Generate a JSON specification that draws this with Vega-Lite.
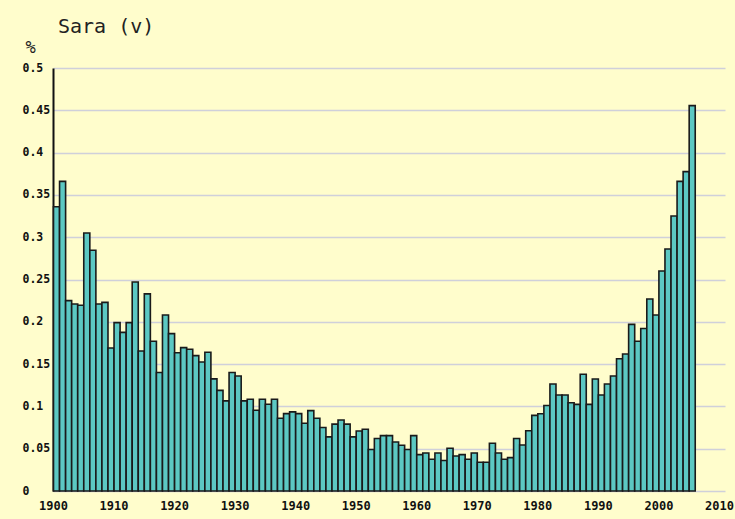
{
  "$schema": "https://vega.github.io/schema/vega-lite/v6.json",
  "autosize": "none",
  "width": 672,
  "height": 423,
  "padding": {"left": 53, "top": 68, "right": 10, "bottom": 28},
  "background": "#fffdcc",
  "title": {
    "text": "Sara (v)",
    "anchor": "start",
    "frame": "group",
    "dx": 5,
    "offset": -15,
    "baseline": "alphabetic",
    "font": "DejaVu Sans Mono",
    "fontSize": 20,
    "fontWeight": "normal",
    "color": "#222222"
  },
  "config": {
    "view": {"stroke": null},
    "font": "DejaVu Sans Mono"
  },
  "data": {
    "values": [
      {"year": 1900, "share": 0.336}, {"year": 1901, "share": 0.366}, {"year": 1902, "share": 0.225},
      {"year": 1903, "share": 0.221}, {"year": 1904, "share": 0.2195}, {"year": 1905, "share": 0.305},
      {"year": 1906, "share": 0.2845}, {"year": 1907, "share": 0.221}, {"year": 1908, "share": 0.223},
      {"year": 1909, "share": 0.169}, {"year": 1910, "share": 0.199}, {"year": 1911, "share": 0.1875},
      {"year": 1912, "share": 0.199}, {"year": 1913, "share": 0.247}, {"year": 1914, "share": 0.1655},
      {"year": 1915, "share": 0.233}, {"year": 1916, "share": 0.177}, {"year": 1917, "share": 0.14},
      {"year": 1918, "share": 0.208}, {"year": 1919, "share": 0.186}, {"year": 1920, "share": 0.1635},
      {"year": 1921, "share": 0.1695}, {"year": 1922, "share": 0.1675}, {"year": 1923, "share": 0.16},
      {"year": 1924, "share": 0.1525}, {"year": 1925, "share": 0.164}, {"year": 1926, "share": 0.1325},
      {"year": 1927, "share": 0.119}, {"year": 1928, "share": 0.1065}, {"year": 1929, "share": 0.14},
      {"year": 1930, "share": 0.136}, {"year": 1931, "share": 0.1065}, {"year": 1932, "share": 0.1085},
      {"year": 1933, "share": 0.0955}, {"year": 1934, "share": 0.1085}, {"year": 1935, "share": 0.1025},
      {"year": 1936, "share": 0.1085}, {"year": 1937, "share": 0.086}, {"year": 1938, "share": 0.0915},
      {"year": 1939, "share": 0.0935}, {"year": 1940, "share": 0.0915}, {"year": 1941, "share": 0.08},
      {"year": 1942, "share": 0.095}, {"year": 1943, "share": 0.086}, {"year": 1944, "share": 0.075},
      {"year": 1945, "share": 0.064}, {"year": 1946, "share": 0.079}, {"year": 1947, "share": 0.084},
      {"year": 1948, "share": 0.079}, {"year": 1949, "share": 0.064}, {"year": 1950, "share": 0.071},
      {"year": 1951, "share": 0.073}, {"year": 1952, "share": 0.049}, {"year": 1953, "share": 0.062},
      {"year": 1954, "share": 0.0655}, {"year": 1955, "share": 0.0655}, {"year": 1956, "share": 0.058},
      {"year": 1957, "share": 0.054}, {"year": 1958, "share": 0.049}, {"year": 1959, "share": 0.0655},
      {"year": 1960, "share": 0.043}, {"year": 1961, "share": 0.045}, {"year": 1962, "share": 0.0375},
      {"year": 1963, "share": 0.045}, {"year": 1964, "share": 0.036}, {"year": 1965, "share": 0.0505},
      {"year": 1966, "share": 0.0414}, {"year": 1967, "share": 0.043}, {"year": 1968, "share": 0.0375},
      {"year": 1969, "share": 0.045}, {"year": 1970, "share": 0.034}, {"year": 1971, "share": 0.034},
      {"year": 1972, "share": 0.0564}, {"year": 1973, "share": 0.045}, {"year": 1974, "share": 0.0375},
      {"year": 1975, "share": 0.0394}, {"year": 1976, "share": 0.062}, {"year": 1977, "share": 0.0544},
      {"year": 1978, "share": 0.0713}, {"year": 1979, "share": 0.0894}, {"year": 1980, "share": 0.0914},
      {"year": 1981, "share": 0.101}, {"year": 1982, "share": 0.1265}, {"year": 1983, "share": 0.1135},
      {"year": 1984, "share": 0.1135}, {"year": 1985, "share": 0.1044}, {"year": 1986, "share": 0.1024},
      {"year": 1987, "share": 0.138}, {"year": 1988, "share": 0.1024}, {"year": 1989, "share": 0.1324},
      {"year": 1990, "share": 0.1135}, {"year": 1991, "share": 0.1265}, {"year": 1992, "share": 0.136},
      {"year": 1993, "share": 0.1564}, {"year": 1994, "share": 0.162}, {"year": 1995, "share": 0.197},
      {"year": 1996, "share": 0.177}, {"year": 1997, "share": 0.192}, {"year": 1998, "share": 0.227},
      {"year": 1999, "share": 0.208}, {"year": 2000, "share": 0.26}, {"year": 2001, "share": 0.286},
      {"year": 2002, "share": 0.325}, {"year": 2003, "share": 0.366}, {"year": 2004, "share": 0.3775},
      {"year": 2005, "share": 0.4555}
    ]
  },
  "mark": {
    "type": "bar",
    "fill": "#5cc8c3",
    "stroke": "#1a1a1a",
    "strokeWidth": 1.6,
    "binSpacing": 0
  },
  "encoding": {
    "x": {
      "field": "year",
      "type": "quantitative",
      "bin": {"step": 1, "extent": [1900, 2011]},
      "scale": {"domain": [1900, 2011], "nice": false, "zero": false},
      "axis": {
        "title": null,
        "values": [1900, 1910, 1920, 1930, 1940, 1950, 1960, 1970, 1980, 1990, 2000, 2010],
        "format": "d",
        "domain": false,
        "ticks": false,
        "grid": false,
        "labelFlush": false,
        "labelPadding": 9,
        "labelFont": "DejaVu Sans Mono",
        "labelFontSize": 12,
        "labelFontWeight": "bold",
        "labelColor": "#111111"
      }
    },
    "y": {
      "field": "share",
      "type": "quantitative",
      "scale": {"domain": [0, 0.5], "nice": false},
      "axis": {
        "title": "%",
        "titleAngle": 0,
        "titleAlign": "left",
        "titleBaseline": "alphabetic",
        "titleX": -28,
        "titleY": -16,
        "titleFont": "DejaVu Sans Mono",
        "titleFontSize": 17,
        "titleFontWeight": "normal",
        "titleColor": "#222222",
        "values": [0, 0.05, 0.1, 0.15, 0.2, 0.25, 0.3, 0.35, 0.4, 0.45, 0.5],
        "format": "~g",
        "ticks": false,
        "labelAlign": "left",
        "labelPadding": 31,
        "labelFont": "DejaVu Sans Mono",
        "labelFontSize": 11.5,
        "labelFontWeight": "bold",
        "labelColor": "#111111",
        "domain": true,
        "domainColor": "#111111",
        "domainWidth": 2,
        "grid": true,
        "gridColor": "#cfd0da",
        "gridWidth": 1.5,
        "gridOpacity": 1
      }
    }
  }
}
